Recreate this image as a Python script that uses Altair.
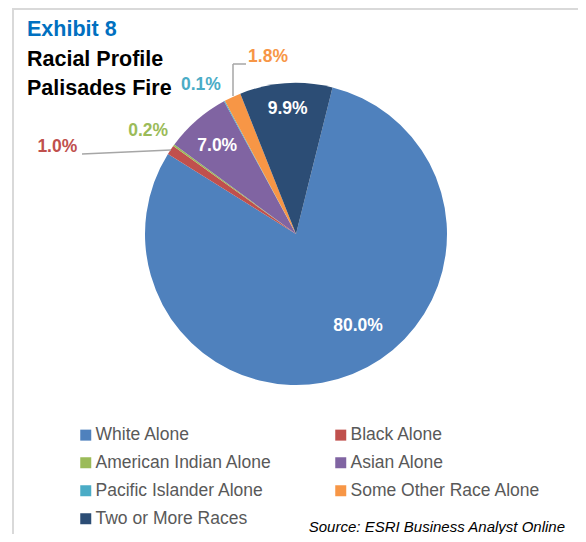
import math
import altair as alt
import pandas as pd

# ---- data ----
races = ["White Alone", "Black Alone", "American Indian Alone", "Asian Alone",
         "Pacific Islander Alone", "Some Other Race Alone", "Two or More Races"]
shares = [80.0, 1.0, 0.2, 7.0, 0.1, 1.8, 9.9]
colors = ["#4F81BD", "#C0504D", "#9BBB59", "#8064A2", "#4BACC6", "#F79646", "#2C4D75"]
legend_order = [0, 2, 4, 6, 1, 3, 5]  # column-major fill giving a row-wise reading order
title_lines = ["Exhibit 8", "Racial Profile", "Palisades Fire"]
source_text = "Source: ESRI Business Analyst Online"

df = pd.DataFrame({"race": races, "share": shares, "order": list(range(len(races)))})

# ---- layout ----
W, H = 570, 526
CX, CY, R = 288, 226, 151
START = math.radians(14)
FONT = "Liberation Sans, Arial, Helvetica, sans-serif"

theta_scale = alt.Scale(domain=[0, 100], range=[START, START + 2 * math.pi])
color_scale = alt.Scale(domain=[races[i] for i in legend_order],
                        range=[colors[i] for i in legend_order])

base = alt.Chart(df).transform_stack(
    stack="share", groupby=[], as_=["s0", "s1"], sort=[alt.SortField("order")]
).transform_calculate(
    mid="(datum.s0 + datum.s1) / 2",
    label="format(datum.share, '.1f') + '%'",
)

arcs = base.mark_arc(outerRadius=R, innerRadius=0, strokeWidth=0).encode(
    theta=alt.Theta("s0:Q", scale=theta_scale),
    theta2="s1:Q",
    x=alt.value(CX),
    y=alt.value(CY),
    color=alt.Color(
        "race:N", scale=color_scale,
        legend=alt.Legend(
            title=None, orient="none", legendX=69, legendY=418, columns=2,
            columnPadding=60, rowPadding=9, symbolType="square", symbolSize=121,
            symbolStrokeWidth=0, labelFont=FONT, labelFontSize=17.5,
            labelColor="#595959", labelOffset=1, padding=0, labelLimit=400,
        ),
    ),
)


def label_layer(i, radius, dtheta_deg, color):
    return base.transform_filter(alt.datum.race == races[i]).mark_text(
        radius=radius, thetaOffset=math.radians(dtheta_deg), font=FONT,
        fontSize=17.5, fontWeight="bold", color=color, align="center", baseline="middle",
    ).encode(
        theta=alt.Theta("mid:Q", scale=theta_scale),
        x=alt.value(CX),
        y=alt.value(CY),
        text="label:N",
    )


labels = [
    label_layer(0, 111, -12, "white"),
    label_layer(6, 125, 0, "white"),
    label_layer(3, 118, -0.8, "white"),
    label_layer(1, 254, -13.8, colors[1]),
    label_layer(2, 180, -1.2, colors[2]),
    label_layer(4, 177, -4.2, colors[4]),
    label_layer(5, 179, 15.9, colors[5]),
]


def one(text=""):
    return alt.Chart(pd.DataFrame({"t": [text]}))


def rule(x, y, x2, y2, color="#A6A6A6", w=1.5):
    return one().mark_rule(color=color, strokeWidth=w).encode(
        x=alt.value(x), y=alt.value(y), x2=alt.value(x2), y2=alt.value(y2))


leaders = [
    rule(74, 146, 163, 142),
    rule(225, 56, 238, 56),
    rule(225, 56, 225, 88),
]

frame = [
    rule(4, 1, 578, 1, "#D9D9D9", 2),
    rule(5, 0, 5, 534, "#D9D9D9", 2),
]


def title_text(text, y, color):
    return one(text).mark_text(font=FONT, fontSize=21.5, fontWeight="bold", color=color,
                               align="left", baseline="alphabetic").encode(
        x=alt.value(19), y=alt.value(y), text="t:N")


titles = [
    title_text(title_lines[0], 28, "#0070C0"),
    title_text(title_lines[1], 58, "black"),
    title_text(title_lines[2], 87, "black"),
    one(source_text).mark_text(font=FONT, fontSize=15, fontStyle="italic", color="black",
                               align="right", baseline="alphabetic").encode(
        x=alt.value(557), y=alt.value(524), text="t:N"),
]

chart = alt.layer(*frame, arcs, *leaders, *labels, *titles).properties(
    width=W, height=H, padding=0, autosize=alt.AutoSizeParams(type="none"),
    background="white",
).configure_view(stroke=None)

chart.save("out.html", embed_options={"renderer": "svg", "actions": False})
